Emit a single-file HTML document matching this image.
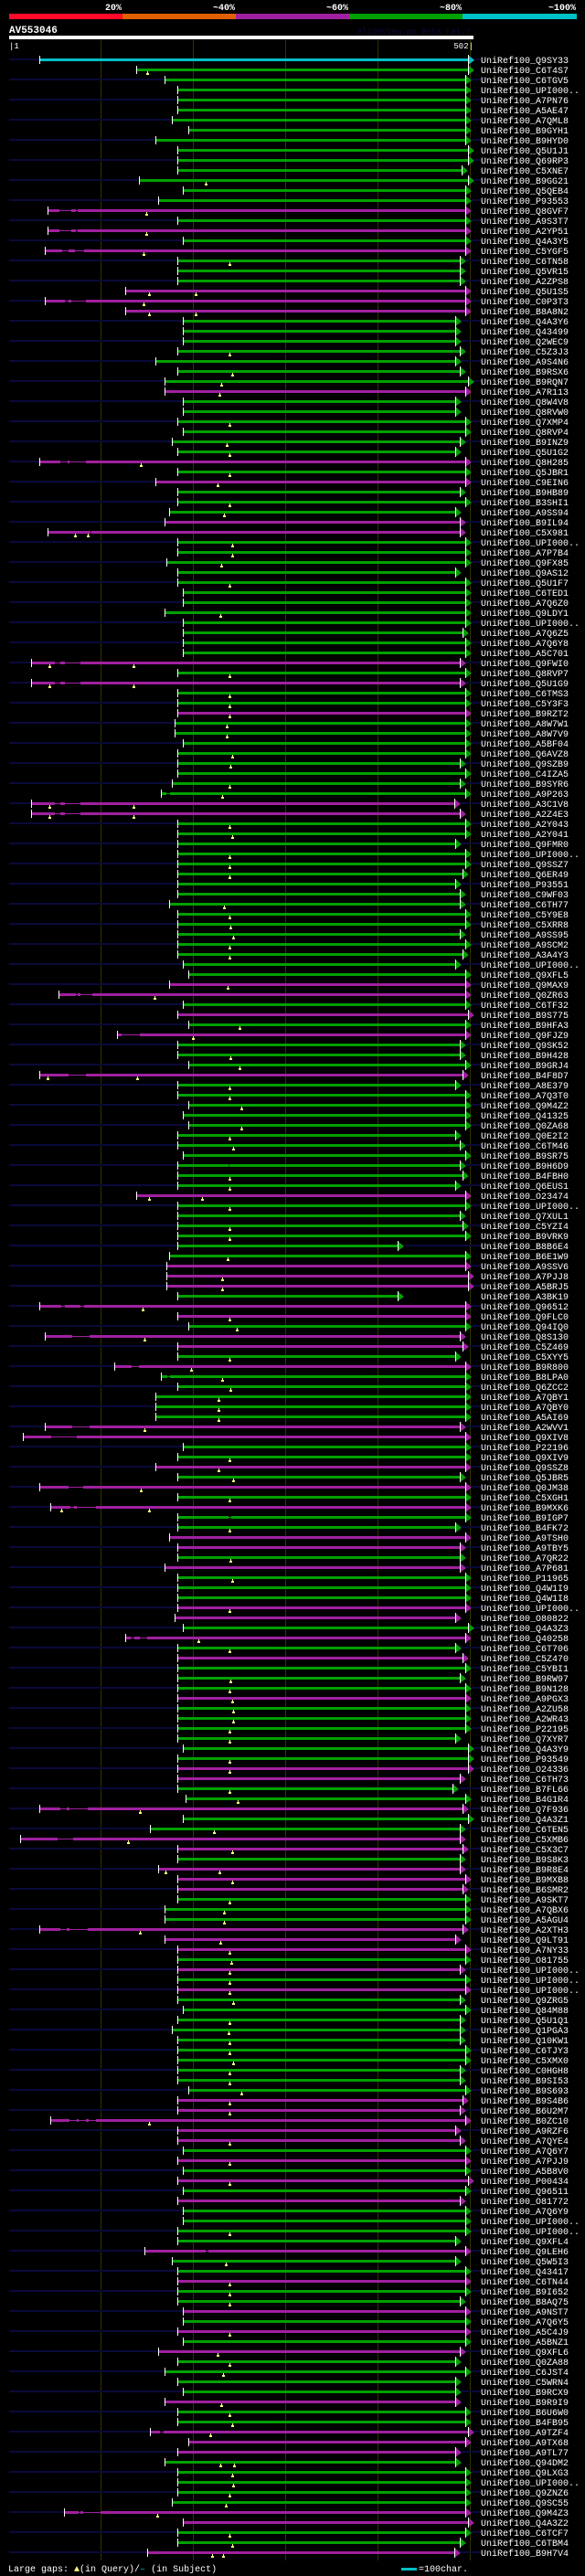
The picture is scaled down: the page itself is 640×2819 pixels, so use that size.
<!DOCTYPE html>
<html><head><meta charset="utf-8"><style>
html,body{margin:0;padding:0;background:#000;}
svg{display:block;}
text{font-family:"Liberation Mono",monospace;}
</style></head><body>
<svg id="chart" xmlns="http://www.w3.org/2000/svg" width="640" height="2819" viewBox="0 0 640 2819" shape-rendering="crispEdges">
<rect x="0" y="0" width="640" height="2819" fill="#000"/>
<g>
<rect x="10" y="15" width="124" height="6" fill="#ff0a28"/>
<rect x="134" y="15" width="124" height="6" fill="#e06000"/>
<rect x="258" y="15" width="124" height="6" fill="#a020a0"/>
<rect x="382" y="15" width="124" height="6" fill="#00a000"/>
<rect x="506" y="15" width="125" height="6" fill="#00c0c8"/>
<text x="133" y="11" fill="#fff" font-size="10" font-weight="bold" text-anchor="end">20%</text>
<text x="257" y="11" fill="#fff" font-size="10" font-weight="bold" text-anchor="end">~40%</text>
<text x="381" y="11" fill="#fff" font-size="10" font-weight="bold" text-anchor="end">~60%</text>
<text x="505" y="11" fill="#fff" font-size="10" font-weight="bold" text-anchor="end">~80%</text>
<text x="630" y="11" fill="#fff" font-size="10" font-weight="bold" text-anchor="end">~100%</text>
</g>
<text x="10" y="36" fill="#fff" font-size="11" font-weight="bold">AV553046</text>
<text x="515" y="37" fill="#0a0a40" font-size="9" text-anchor="end">AlignView.pm Beta rel.7</text>
<rect x="10" y="39" width="508" height="4" fill="#fff"/>
<text x="10" y="53" fill="#fff" font-size="9">|1</text>
<text x="518" y="53" fill="#fff" font-size="9" text-anchor="end">502|</text>
<g id="grid"></g>
<g id="rows"></g>
<g>
<text x="9" y="2814" fill="#fff" font-size="10">Large gaps: <tspan fill="#ffff80">▲</tspan>(in Query)/<tspan fill="#00c0c8">–</tspan> (in Subject)</text>
<rect x="439" y="2810" width="17" height="3" fill="#00c0c8"/>
<text x="458" y="2814" fill="#fff" font-size="10">=100char.</text>
</g>
</svg>
<script>
const queryLen = 502;
const gridTicks = [100, 201, 302, 403, 504];
const names = ["Q9SY33","C6T4S7","C6TGV5","UPI000..","A7PN76","A5AE47","A7QML8","B9GYH1","B9HYD0","Q5U1J1","Q69RP3","C5XNE7","B9GG21","Q5QEB4","P93553","Q8GVF7","A9S3T7","A2YP51","Q4A3Y5","C5YGF5","C6TN58","Q5VR15","A2ZPS8","Q5U1S5","C0P3T3","B8A8N2","Q4A3Y6",
"Q43499","Q2WEC9","C5Z3J3","A9S4N6","B9RSX6","B9RQN7","A7R113","Q8W4V8","Q8RVW0","Q7XMP4","Q8RVP4","B9INZ9","Q5U1G2","Q8H285","Q5JBR1","C9EIN6","B9HB89","B3SHI1","A9SS94","B9IL94","C5X981","UPI000..","A7P7B4","Q9FX85","Q9AS12","Q5U1F7","C6TED1",
"A7Q6Z0","Q9LDY1","UPI000..","A7Q6Z5","A7Q6Y8","A5C701","Q9FWI0","Q8RVP7","Q5U1G9","C6TMS3","C5Y3F3","B9RZT2","A8W7W1","A8W7V9","A5BF04","Q6AVZ8","Q9SZB9","C4IZA5","B9SYR6","A9P263","A3C1V8","A2Z4E3","A2Y043","A2Y041","Q9FMR0","UPI000..","Q9SSZ7",
"Q6ER49","P93551","C9WF03","C6TH77","C5Y9E8","C5XRR8","A9SS95","A9SCM2","A3A4Y3","UPI000..","Q9XFL5","Q9MAX9","Q0ZR63","C6TF32","B9S775","B9HFA3","Q9FJZ9","Q9SK52","B9H428","B9GRJ4","B4F8D7","A8E379","A7Q3T0","Q9M4Z2","Q41325","Q0ZA68","Q0E2I2",
"C6TM46","B9SR75","B9H6D9","B4FBH0","Q6EUS1","O23474","UPI000..","Q7XUL1","C5YZI4","B9VRK9","B8B6E4","B6E1W9","A9SSV6","A7PJJ8","A5BRJ5","A3BK19","Q96512","Q9FLC0","Q94IQ0","Q8S130","C5Z469","C5XYY5","B9R800","B8LPA0","Q6ZCC2","A7QBY1","A7QBY0",
"A5AI69","A2WVV1","Q9XIV8","P22196","Q9XIV9","Q9SSZ8","Q5JBR5","Q0JM38","C5XGH1","B9MXK6","B9IGP7","B4FK72","A9TSH0","A9TBY5","A7QR22","A7P681","P11965","Q4W1I9","Q4W1I8","UPI000..","O80822","Q4A3Z3","Q40258","C6T706","C5Z470","C5YBI1","B9RW97",
"B9N128","A9PGX3","A2ZU58","A2WR43","P22195","Q7XYR7","Q4A3Y9","P93549","O24336","C6TH73","B7FL66","B4G1R4","Q7F936","Q4A3Z1","C6TEN5","C5XMB6","C5X3C7","B9S8K3","B9R8E4","B9MXB8","B6SMR2","A9SKT7","A7QBX6","A5AGU4","A2XTH3","Q9LT91","A7NY33",
"O81755","UPI000..","UPI000..","UPI000..","Q9ZRG5","Q84M88","Q5U1Q1","Q1PGA3","Q10KW1","C6TJY3","C5XMX0","C0HGH8","B9SI53","B9S693","B9S4B6","B6U2M7","B0ZC10","A9RZF6","A7QYE4","A7Q6Y7","A7PJJ9","A5B8V0","P00434","Q96511","O81772","A7Q6Y9","UPI000..",
"UPI000..","Q9XFL4","Q9LEH6","Q5W5I3","Q43417","C6TN44","B9I652","B8AQ75","A9NST7","A7Q6Y5","A5C4J9","A5BNZ1","Q9XFL6","Q0ZA88","C6JST4","C5WRN4","B9RCX9","B9R9I9","B6U6W0","B4FB95","A9TZF4","A9TX68","A9TL77","Q94DM2","Q9LXG3","UPI000..","Q9ZNZ6","Q9SC55",
"Q9M4Z3","Q4A3Z2","C6TCF7","C6TBM4","B9H7V4"];
const identityClass = ["c","g","g","g","g","g","g","g","g","g","g","g","g","g","g","m","g","m","g","m","g","g","g","m","m","m","g","g","g","g","g","g","g","m","g","g","g","g","g","g","m","g","m","g","g","g","m","m","g","g","g","g","g","g","g","g","g","g","g","g","m","g","m","g","g","m","g","g","g","g","g","g","g","g","m","m","g","g","g","g","g","g","g","g","g","g","g","g","g","g","g","g","m","m","g","m","g","m","g","g","g","m","g","g","g","g","g","g","g","g","g","g","g","m","g","g","g","g","g","g","m","m","m","g","m","m","g","m","m","g","m","g","g","g","g","g","m","m","g","g","m","g","m","g","m","g","g","m","m","g","m","g","g","g","m","m","g","m","g","m","g","g","g","m","g","g","g","g","g","g","m","m","g","g","m","g","g","m","m","g","m","m","m","g","g","g","m","m","m","g","m","g","m","g","g","g","g","g","g","g","g","g","g","m","m","m","m","m","g","m","g","m","g","m","g","g","g","g","m","g","g","m","g","g","m","g","m","g","m","g","g","g","g","m","g","g","m","m","m","g","g","g","g","g","m","m","g","g","m"];
const qStart = [33,139,170,184,184,184,178,196,160,184,184,184,142,190,163,42,184,42,190,39,184,184,184,127,39,127,190,
190,190,184,160,184,170,170,190,190,184,190,178,184,33,184,160,184,184,175,170,42,184,184,172,184,184,190,
190,170,190,190,190,190,24,184,24,184,184,184,181,181,190,184,184,184,178,166,24,24,184,184,184,184,184,
184,184,184,175,184,184,184,184,184,190,196,175,54,190,184,196,118,184,184,196,33,184,184,196,190,196,184,
184,190,184,184,184,139,184,184,184,184,184,175,172,172,172,184,33,184,196,39,184,184,115,166,184,160,160,
160,39,15,190,184,160,184,33,184,45,184,184,175,184,184,170,184,184,184,184,181,190,127,184,184,184,184,
184,184,184,184,184,184,190,184,184,184,184,193,33,190,154,12,184,184,163,184,184,184,170,170,33,170,184,
184,184,184,184,184,190,184,178,184,184,184,184,184,196,184,184,45,184,184,190,184,190,184,190,184,190,190,
184,184,148,178,184,184,184,184,190,190,184,190,163,184,170,184,190,170,184,184,154,196,184,170,184,184,184,178,
60,190,184,184,151];
const qEnd = [502,502,499,499,499,499,499,499,499,502,502,495,502,499,499,499,499,499,499,499,493,493,493,499,499,499,488,
488,488,493,488,493,502,499,488,488,499,499,493,488,499,499,499,493,499,488,493,493,499,499,499,488,499,499,
499,499,499,496,499,499,493,499,493,499,499,499,499,499,499,499,493,499,493,499,487,493,499,499,488,499,499,
496,488,493,493,499,499,493,499,496,488,499,499,499,499,502,499,499,493,493,499,496,488,499,499,499,499,488,
493,499,493,496,488,499,499,493,496,499,425,499,499,502,502,425,499,499,499,493,496,488,499,499,499,499,499,
499,493,499,499,499,499,493,499,499,499,499,488,499,493,493,493,499,499,499,499,488,502,499,488,496,499,493,
499,499,499,499,499,488,502,502,502,493,485,499,496,502,493,493,496,493,493,499,496,499,499,499,496,488,499,
499,493,499,499,493,499,493,493,493,499,499,493,493,499,496,493,499,488,493,499,499,499,502,499,493,499,499,
499,488,499,488,499,499,499,493,499,499,499,499,493,488,499,488,488,488,499,499,502,499,488,488,499,499,499,499,
499,502,499,493,487];
const gapRow = [16,16,18,18,20,20,25,25,41,41,48,61,61,63,63,74,75,75,76,76,94,94,98,102,111,125,125,128,131,132,137,138,143,145,145,146,158,158,175,175,178,187,187,206,206,206,219,237,245,245];
const gapFrom = [55,73,55,73,58,72,61,68,56,66,89,50,61,50,61,172,50,61,50,61,73,78,123,65,240,57,78,69,134,173,69,46,65,67,74,240,133,143,56,66,53,56,66,66,76,87,215,165,76,81];
const gapTo = [68,75,68,75,65,82,65,84,64,84,90,56,78,56,78,176,56,78,56,78,75,91,143,84,241,61,82,88,142,176,88,74,81,71,95,243,137,151,63,86,70,63,86,74,84,95,218,169,78,100];
const markRow = [2,13,16,18,20,21,24,24,25,26,26,30,32,33,34,37,39,40,41,42,43,45,46,48,48,49,50,51,53,56,61,61,62,63,63,64,65,66,67,68,70,71,73,74,75,75,76,76,77,78,80,81,82,85,86,87,88,89,90,93,94,97,98,100,101,102,102,103,104,105,107,108,109,112,113,114,114,115,117,118,120,122,123,125,126,127,128,130,131,132,133,134,135,136,137,140,141,142,143,144,145,145,147,150,152,155,158,159,162,163,164,165,166,167,168,170,171,173,174,175,177,178,179,181,181,182,184,185,186,187,188,189,190,191,192,193,194,196,197,198,199,200,201,202,203,204,205,206,208,210,212,217,220,222,223,224,227,229,230,231,234,235,236,237,240,240,241,242,243,244,245,247,248,249,249];
const markPos = [151,215,150,150,147,241,153,204,147,153,204,241,244,232,230,241,238,241,144,241,228,241,235,72,86,244,244,232,241,231,44,136,241,44,136,241,241,241,238,238,244,242,241,233,44,136,44,136,241,244,241,241,241,235,241,242,245,241,241,239,159,252,201,242,252,42,140,241,241,254,254,241,245,241,241,153,211,241,241,241,239,233,233,146,241,249,148,241,199,233,242,229,229,229,148,241,229,245,144,241,57,153,241,242,244,241,207,241,242,241,244,245,245,241,241,241,241,241,250,143,224,130,244,171,230,244,241,235,235,143,231,241,243,241,241,241,245,241,240,241,241,245,241,241,254,241,241,153,241,241,241,241,237,241,241,241,241,228,241,234,232,241,244,220,231,246,244,245,241,237,162,241,244,222,234];

const SVGNS = "http://www.w3.org/2000/svg";
const X0 = 10, ROW0 = 65, PITCH = 11, NAME_X = 526;
function xScale(q){ return X0 + q; }
function yRow(i){ return ROW0 + i * PITCH; }
const colorMap = {g:"#00a000", m:"#a020a0", c:"#00c0c8"};
function mk(tag, attrs, parent){ const e=document.createElementNS(SVGNS,tag); for(const k in attrs) e.setAttribute(k,attrs[k]); parent.appendChild(e); return e; }

const grid = document.getElementById('grid');
gridTicks.forEach(t=>{
  const l = mk('rect',{x:xScale(t),y:44,width:1,height:2758,fill:'#333300'},grid);
  
  
});

const rows = document.getElementById('rows');
for(let i=0;i<names.length;i++){
  const y = yRow(i);
  const g = mk('g',{},rows);
  
  
  if(i%2===0){
    const z = mk('rect',{x:X0,y:y-1,width:NAME_X-X0,height:2,fill:'#0a0a3a'},g);
    
    
  }
  const col = colorMap[identityClass[i]];
  const xs = xScale(qStart[i]), xe = xScale(qEnd[i]);
  const bar = mk('rect',{x:xs,y:y-1,width:xe-xs,height:3,fill:col},g);
  
  
  const arr = mk('polygon',{points:`${xe},${y-5} ${xe+7},${y+1} ${xe},${y+6}`,fill:col},g);
  
  
  const el = mk('rect',{x:xe,y:y-5,width:1,height:11,fill:'#fff'},g);
  
  
  const st = mk('rect',{x:xs,y:y-4,width:1,height:9,fill:'#fff'},g);
  
  
  const t = mk('text',{x:NAME_X,y:y+4,fill:'#fff','font-size':'10'},g);
  t.textContent = 'UniRef100_' + names[i];
  
  
}
for(let k=0;k<gapRow.length;k++){
  const i = gapRow[k]-1, y = yRow(i);
  const col = colorMap[identityClass[i]];
  const a = xScale(gapFrom[k]), b = xScale(gapTo[k]);
  const blank = mk('rect',{x:a,y:y-1,width:b-a,height:3,fill:'#000'},rows);
  
  
  const thin = mk('rect',{x:a,y:y,width:b-a,height:1,fill:col},rows);
  
  
}
for(let k=0;k<markRow.length;k++){
  const y = yRow(markRow[k]-1), x = xScale(markPos[k]);
  const m1 = mk('rect',{x:x,y:y+2,width:1,height:2,fill:'#ffff80'},rows);
  
  
  const m2 = mk('rect',{x:x-1,y:y+4,width:3,height:2,fill:'#ffff80'},rows);
  
  
}
</script>
</body></html>
